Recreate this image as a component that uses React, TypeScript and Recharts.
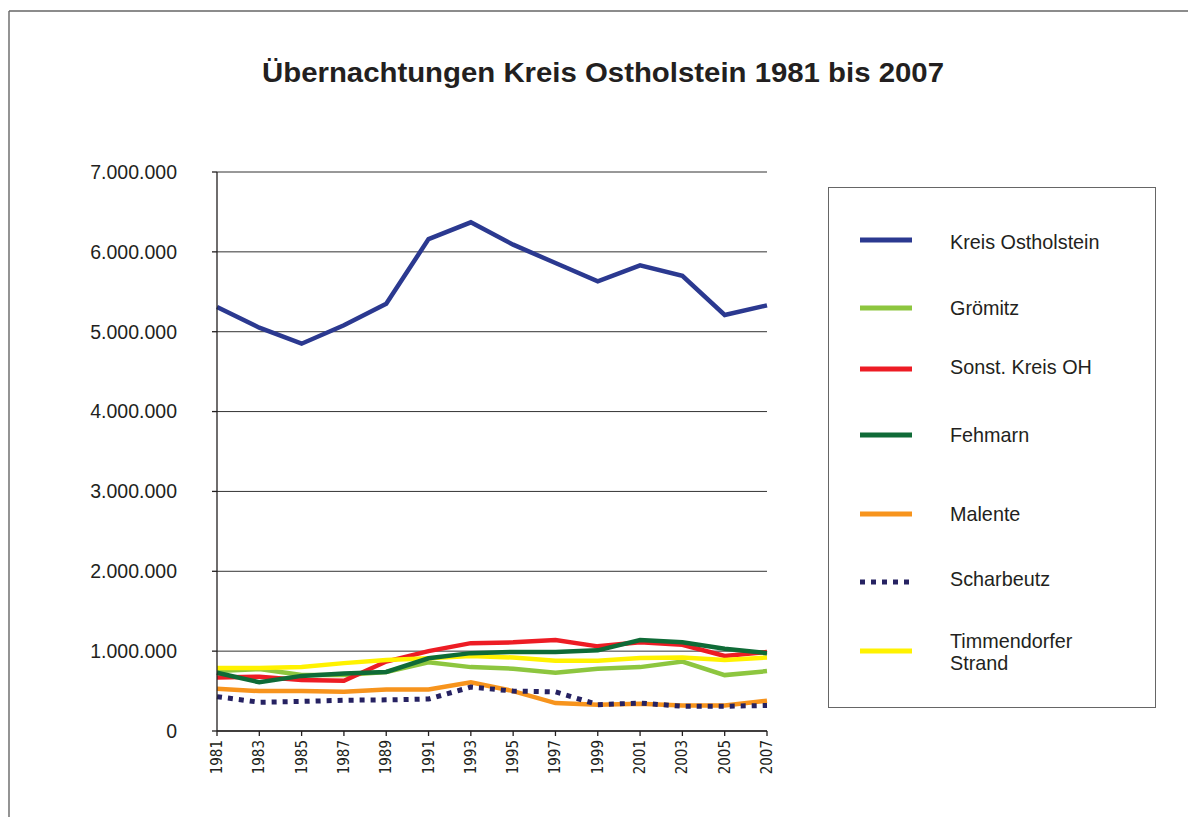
import React from 'react';
import { LineChart, Line, XAxis, YAxis, CartesianGrid } from 'recharts';

// Overnight stays per year, district of Ostholstein and its resorts
const YEARS = ['1981', '1983', '1985', '1987', '1989', '1991', '1993', '1995', '1997', '1999', '2001', '2003', '2005', '2007'];
const KREIS_OSTHOLSTEIN = [5310000, 5050000, 4850000, 5080000, 5350000, 6160000, 6370000, 6090000, 5860000, 5630000, 5830000, 5700000, 5210000, 5330000];
const GROEMITZ = [750000, 775000, 700000, 700000, 740000, 860000, 800000, 780000, 730000, 780000, 800000, 870000, 700000, 750000];
const SONST_KREIS_OH = [670000, 680000, 640000, 630000, 870000, 1000000, 1100000, 1110000, 1140000, 1060000, 1110000, 1080000, 940000, 990000];
const FEHMARN = [730000, 610000, 690000, 720000, 740000, 910000, 975000, 990000, 990000, 1010000, 1140000, 1110000, 1030000, 975000];
const MALENTE = [530000, 500000, 500000, 490000, 520000, 520000, 610000, 500000, 350000, 330000, 340000, 320000, 320000, 380000];
const SCHARBEUTZ = [430000, 360000, 370000, 385000, 390000, 400000, 550000, 500000, 490000, 330000, 350000, 310000, 310000, 320000];
const TIMMENDORFER_STRAND = [790000, 790000, 800000, 850000, 890000, 910000, 940000, 920000, 880000, 880000, 915000, 920000, 890000, 920000];
const Y_TICKS = [0, 1000000, 2000000, 3000000, 4000000, 5000000, 6000000, 7000000];

const TITLE = 'Übernachtungen Kreis Ostholstein 1981 bis 2007';

type Series = { key: string; name: string[]; color: string; dash?: string; values: number[] };

// Legend order
const SERIES: Series[] = [
  { key: 'kreis', name: ['Kreis Ostholstein'], color: '#2b3990', values: KREIS_OSTHOLSTEIN },
  { key: 'groemitz', name: ['Grömitz'], color: '#8dc63f', values: GROEMITZ },
  { key: 'sonst', name: ['Sonst. Kreis OH'], color: '#ed1c24', values: SONST_KREIS_OH },
  { key: 'fehmarn', name: ['Fehmarn'], color: '#0f6b37', values: FEHMARN },
  { key: 'malente', name: ['Malente'], color: '#f7941d', values: MALENTE },
  { key: 'scharbeutz', name: ['Scharbeutz'], color: '#262262', dash: '5 6', values: SCHARBEUTZ },
  { key: 'timmendorf', name: ['Timmendorfer', 'Strand'], color: '#fff200', values: TIMMENDORFER_STRAND },
];

// Paint order of the lines (later ones on top)
const DRAW_ORDER = ['kreis', 'groemitz', 'malente', 'scharbeutz', 'sonst', 'timmendorf', 'fehmarn'];

// Legend box layout: swatch centre and text centre of each row, relative to the box
const LEGEND_SWATCH_Y = [52, 120, 181, 247, 326, 394, 463];
const LEGEND_TEXT_Y = [54, 120, 179, 247, 326, 391, 464];

const data = YEARS.map((year, i) => {
  const row: Record<string, string | number> = { year };
  SERIES.forEach((s) => {
    row[s.key] = s.values[i];
  });
  return row;
});

const TEXT_COLOR = '#231f20';
const FONT = '"Liberation Sans", Arial, Helvetica, sans-serif';

const formatNumber = (v: number) => String(v).replace(/\B(?=(\d{3})+(?!\d))/g, '.');

const YearTick = (props: any) => {
  const { x, y, payload } = props;
  return (
    <text
      x={x}
      y={y}
      transform={`rotate(-90 ${x} ${y})`}
      textAnchor="end"
      dominantBaseline="central"
      fontFamily='"DejaVu Sans Condensed", "DejaVu Sans", sans-serif'
      fontSize={15}
      fill={TEXT_COLOR}
    >
      {payload.value}
    </text>
  );
};

export default function App() {
  return (
    <div
      style={{
        position: 'absolute',
        left: 0,
        top: 0,
        width: 1188,
        height: 817,
        background: '#ffffff',
        fontFamily: FONT,
        overflow: 'hidden',
      }}
    >
      <svg width={1188} height={817} style={{ position: 'absolute', left: 0, top: 0 }}>
        <line x1={9} y1={11} x2={1188} y2={11} stroke="#666" strokeWidth={1.4} />
        <line x1={9} y1={11} x2={9} y2={817} stroke="#666" strokeWidth={1.4} />
        <text
          x={603}
          y={82}
          textAnchor="middle"
          fontFamily={FONT}
          fontWeight="bold"
          fontSize={28}
          fill={TEXT_COLOR}
          textLength={682}
          lengthAdjust="spacingAndGlyphs"
        >
          {TITLE}
        </text>
      </svg>

      <div style={{ position: 'absolute', left: 0, top: 0 }}>
        <LineChart
          width={1188}
          height={817}
          data={data}
          margin={{ top: 172, right: 421, bottom: 26, left: 117 }}
        >
          <CartesianGrid horizontal vertical={false} stroke="#333" strokeWidth={1} />
          <XAxis
            dataKey="year"
            height={60}
            interval={0}
            tickSize={5}
            tickMargin={4}
            axisLine={{ stroke: TEXT_COLOR, strokeWidth: 1.3 }}
            tickLine={{ stroke: TEXT_COLOR, strokeWidth: 1.3 }}
            tick={<YearTick />}
          />
          <YAxis
            width={100}
            domain={[0, 7000000]}
            ticks={Y_TICKS}
            interval={0}
            tickSize={5}
            tickMargin={35}
            tickFormatter={formatNumber}
            axisLine={{ stroke: TEXT_COLOR, strokeWidth: 1.3 }}
            tickLine={{ stroke: TEXT_COLOR, strokeWidth: 1.3 }}
            tick={{ fill: TEXT_COLOR, fontSize: 19.5, fontFamily: FONT }}
          />
          {DRAW_ORDER.map((key) => {
            const s = SERIES.find((x) => x.key === key)!;
            return (
              <Line
                key={s.key}
                type="linear"
                dataKey={s.key}
                name={s.name.join(' ')}
                stroke={s.color}
                strokeWidth={s.dash ? 5 : 4.5}
                strokeDasharray={s.dash}
                dot={false}
                activeDot={false}
                isAnimationActive={false}
              />
            );
          })}
        </LineChart>
      </div>

      <div
        style={{
          position: 'absolute',
          left: 828,
          top: 187,
          width: 328,
          height: 521,
          border: '1.4px solid #666',
          boxSizing: 'border-box',
        }}
      >
        {SERIES.map((s, i) => {
          const lineH = 22;
          const textH = s.name.length * lineH;
          return (
            <React.Fragment key={s.key}>
              <svg
                width={52}
                height={8}
                style={{ position: 'absolute', left: 31, top: LEGEND_SWATCH_Y[i] - 4 }}
              >
                <line x1={0} y1={4} x2={52} y2={4} stroke={s.color} strokeWidth={5} strokeDasharray={s.dash} />
              </svg>
              <div
                style={{
                  position: 'absolute',
                  left: 121,
                  top: LEGEND_TEXT_Y[i] - textH / 2,
                  fontSize: 19.8,
                  lineHeight: `${lineH}px`,
                  color: TEXT_COLOR,
                  whiteSpace: 'nowrap',
                }}
              >
                {s.name.map((n) => (
                  <div key={n}>{n}</div>
                ))}
              </div>
            </React.Fragment>
          );
        })}
      </div>
    </div>
  );
}
